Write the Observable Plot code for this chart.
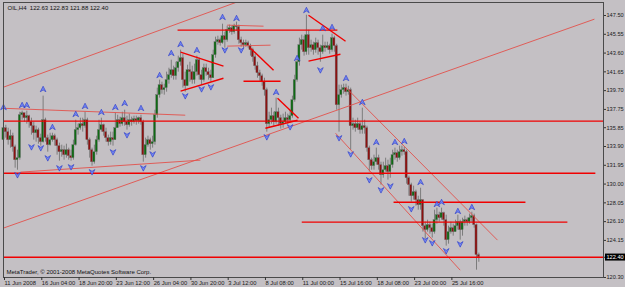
<!DOCTYPE html>
<html><head><meta charset="utf-8">
<script src="https://cdn.jsdelivr.net/npm/d3@7"></script>
<script src="https://cdn.jsdelivr.net/npm/@observablehq/plot@0.6"></script>
<style>
html,body{margin:0;padding:0;background:#c4c0c4;overflow:hidden;}
</style></head><body><div id="chart"></div>
<script>
// ---- data ----
const symbolName = "OIL", period = "H4";
const firstOpen = 134.56;
const closes = [
135.80,135.39,134.56,134.97,133.83,132.48,132.69,137.15,137.36,136.84,
137.05,136.43,136.01,135.28,135.60,134.77,134.35,136.63,134.77,134.04,
134.56,134.97,134.56,133.94,133.31,133.52,133.00,133.52,132.90,132.69,
134.04,135.60,135.80,136.22,136.01,136.63,134.56,133.52,132.27,133.31,
134.56,135.60,136.11,135.39,134.77,134.35,134.77,134.56,135.80,136.63,
136.22,136.84,136.43,136.11,136.63,136.43,136.74,136.53,136.84,136.43,
133.00,134.04,134.56,134.14,134.35,137.15,139.23,140.27,139.75,139.96,
140.79,141.30,141.82,141.20,142.03,142.65,143.07,140.79,140.16,141.82,
141.62,140.79,141.62,142.86,141.30,140.79,142.03,141.62,141.30,140.99,
143.38,144.73,144.94,144.63,145.35,144.94,145.98,146.18,145.77,146.39,
146.29,144.94,144.63,144.42,144.63,144.32,143.90,143.17,142.24,141.51,
141.20,140.58,139.75,136.22,136.63,137.05,136.43,137.46,136.84,136.22,
136.43,136.84,136.63,137.05,138.71,140.79,142.65,144.42,144.94,143.69,
145.46,144.11,144.42,143.90,144.63,144.11,143.69,144.32,144.11,144.32,
143.90,145.15,144.32,138.19,139.23,139.75,139.96,139.54,139.75,136.01,
136.22,135.80,136.22,135.60,136.01,135.80,133.73,132.48,131.86,132.27,
132.69,131.96,130.93,131.44,131.86,131.24,131.96,133.00,133.21,132.69,
133.31,133.52,133.31,130.61,129.89,128.74,129.16,128.33,127.81,128.33,
125.63,125.22,125.74,125.42,125.01,126.25,126.77,126.46,126.98,126.25,
124.18,125.01,125.42,125.01,125.63,126.05,125.22,126.05,126.25,126.05,
126.46,126.67,125.74,122.63,122.40];
const highs = [
137.36,136.11,135.80,135.60,135.28,134.04,133.52,137.46,137.57,137.26,
137.57,137.15,136.84,136.43,136.01,135.80,135.18,139.13,136.84,135.08,
135.28,135.28,135.18,134.77,134.25,134.04,133.94,134.14,133.73,133.52,
134.56,136.63,136.22,136.84,136.84,137.46,136.84,134.77,133.73,134.04,
134.97,136.63,136.84,136.22,135.80,135.08,135.39,135.39,137.36,137.15,
136.95,137.46,137.67,137.05,137.26,136.95,137.05,137.05,136.95,137.15,
136.63,134.77,134.97,134.77,134.97,137.67,139.96,140.79,140.58,140.37,
141.62,142.03,142.86,142.24,142.65,143.28,143.90,143.48,141.62,142.34,
142.65,142.24,142.45,143.28,143.07,141.82,142.45,142.45,142.03,141.82,
143.90,145.25,145.35,145.15,146.60,145.77,146.39,146.50,146.39,146.60,
146.81,146.50,145.25,144.94,144.94,144.83,144.52,144.11,143.48,142.65,
141.82,141.41,140.99,139.96,137.46,137.88,137.46,138.92,137.88,137.15,
137.26,137.46,137.26,137.67,139.13,141.30,143.07,145.15,145.46,145.35,
147.53,145.98,144.94,144.73,145.15,144.94,144.42,145.46,144.73,144.73,
144.52,145.56,145.35,144.52,140.27,140.27,140.37,140.37,140.16,139.96,
136.84,136.63,136.84,136.43,137.88,136.63,136.01,133.94,132.69,133.00,
133.73,133.00,132.27,132.27,132.69,132.48,132.69,133.52,133.73,133.52,
133.94,133.94,133.83,133.52,130.82,130.09,129.78,129.37,128.74,129.57,
128.33,126.05,126.25,126.05,125.84,127.29,127.50,127.08,127.50,127.08,
126.77,125.63,126.05,125.84,126.25,126.77,126.25,126.46,126.67,126.46,
126.88,127.08,126.88,125.84,122.83];
const lows = [
134.04,134.77,134.04,133.73,133.31,131.65,131.44,132.48,136.63,136.43,
136.22,135.80,135.08,134.56,134.35,134.14,133.94,134.25,134.35,133.31,
133.94,134.35,133.94,133.00,132.38,132.79,132.48,132.69,132.48,132.38,
132.48,133.94,135.08,135.60,135.39,135.80,134.04,132.69,131.86,132.07,
133.00,134.35,135.39,134.97,134.35,133.94,134.04,133.94,134.56,135.80,
135.91,136.01,136.01,135.60,135.91,136.01,136.22,136.11,136.22,136.11,
132.27,132.69,133.83,133.52,133.73,134.04,136.84,138.92,139.33,139.23,
139.54,140.37,140.99,140.79,140.79,141.62,142.24,139.96,139.54,140.16,
140.58,140.37,140.37,141.20,140.79,140.27,140.58,141.20,140.79,140.58,
140.99,143.07,144.42,144.32,144.52,144.11,144.73,145.66,145.46,145.56,
145.87,144.52,144.21,144.11,144.21,144.11,143.28,142.65,141.82,140.99,
140.68,140.16,139.13,135.39,135.80,136.22,136.01,136.22,136.01,135.70,
135.80,136.22,136.22,136.43,136.84,138.50,140.58,142.24,143.90,143.28,
143.38,143.38,143.69,143.38,143.59,143.38,142.65,143.48,143.69,143.90,
143.48,143.69,143.69,137.67,135.39,138.92,139.33,139.13,139.23,133.52,
135.60,135.39,135.60,135.18,135.18,135.18,133.31,131.24,131.44,131.44,
131.96,131.44,129.89,130.61,131.24,130.41,130.61,131.65,132.48,132.27,
132.48,132.90,133.00,129.99,128.74,128.12,128.33,127.71,127.29,127.29,
125.01,124.29,125.01,124.80,124.39,124.80,125.84,126.05,126.25,125.63,
123.56,123.76,124.80,124.59,125.01,125.22,124.18,124.59,125.63,125.63,
125.84,126.05,125.42,121.06,121.88];

const xTickBars = [0,16,32,48,64,80,96,112,128,144,160,176,192];
const xTickLabels = ["11 Jun 2008","16 Jun 04:00","18 Jun 20:00","23 Jun 12:00","26 Jun 04:00","30 Jun 20:00","3 Jul 12:00","8 Jul 08:00","11 Jul 00:00","15 Jul 16:00","18 Jul 08:00","23 Jul 00:00","25 Jul 16:00"];
const yTicks = [147.50,145.55,143.60,141.65,139.70,137.75,135.85,133.90,131.95,130.00,128.05,126.10,124.15,122.40,120.30];

// fractal arrows: bar index and level
const upFractalBars = [0,8,10,17,21,31,35,42,48,52,59,67,72,76,83,94,100,117,126,130,137,141,147,154,160,168,172,179,186,188,195,201];
const upFractalLevels = [137.98,138.19,138.19,139.85,135.91,137.26,138.09,137.46,137.98,138.40,137.88,141.30,143.59,144.52,143.90,147.33,147.22,139.54,143.07,148.05,146.18,146.29,140.99,138.50,134.35,134.35,134.45,130.20,127.91,128.12,127.19,127.60];
const downFractalBars = [6,12,16,19,24,29,38,47,53,60,64,78,85,89,95,102,113,123,136,144,149,157,162,166,175,181,184,190,196];
const downFractalLevels = [130.93,133.83,133.73,132.69,131.65,131.76,131.24,133.31,135.08,131.65,133.10,139.13,139.85,140.06,143.90,143.90,134.87,135.91,141.82,134.77,133.10,130.41,129.37,129.78,127.40,124.18,123.87,123.04,123.76];

// drawn objects (bar index, price) pairs
const fullHorizontalLevels = [136.53, 122.40];
const thickSegments = [
  [-2,131.13,254,131.13],
  [167.4,128.12,224,128.12],
  [128,126.05,242,126.05],
  [74.7,145.98,143.3,145.98],
  [103,140.68,118.9,140.68],
  [76,143.69,94.4,142.24],
  [76,139.65,94.4,140.99],
  [106,144.11,115.9,141.82],
  [117.6,138.92,126.6,136.84],
  [112.4,135.80,126.2,136.63],
  [130.9,147.53,146.8,144.83],
  [130.9,142.76,144.6,143.48]
];
const thinSegments = [
  [0,140.06,100,148.88],
  [-1.3,125.32,253.6,147.12],
  [-1.3,137.88,78,137.15],
  [7.3,131.24,84.5,132.48],
  [146.8,140.06,212,124.18],
  [142.5,135.28,196,121.06],
  [96,146.50,111.6,146.39],
  [96,144.32,114.6,144.42]
];

// ---- build ----
const bars = closes.map((c, i) => ({i, open: i === 0 ? firstOpen : closes[i-1], close: c, high: highs[i], low: lows[i]}));
const last = bars[bars.length - 1];
const seg = a => a.map(([x1,y1,x2,y2]) => ({x1,y1,x2,y2}));
const ups = upFractalBars.map((b,k) => ({b, v: upFractalLevels[k]}));
const downs = downFractalBars.map((b,k) => ({b, v: downFractalLevels[k]}));

const upArrow = {draw(ctx, size){ const s = Math.sqrt(size/Math.PI);
  ctx.moveTo(0,-1.1*s); ctx.lineTo(1.05*s,0.95*s); ctx.lineTo(0,0.3*s); ctx.lineTo(-1.05*s,0.95*s); ctx.closePath(); }};
const downArrow = {draw(ctx, size){ const s = Math.sqrt(size/Math.PI);
  ctx.moveTo(0,1.1*s); ctx.lineTo(1.05*s,-0.95*s); ctx.lineTo(0,-0.3*s); ctx.lineTo(-1.05*s,-0.95*s); ctx.closePath(); }};

const fmt = v => v.toFixed(2);
const chart = Plot.plot({
  width: 625, height: 287,
  marginTop: 2, marginLeft: 3, marginRight: 22, marginBottom: 10,
  style: {background: "#c4c0c4", fontFamily: "Liberation Sans, Arial, sans-serif", fontSize: "5.6px", color: "#1a1a1a"},
  x: {domain: [0, 257.5], axis: null},
  y: {domain: [120.30, 148.85], axis: null},
  marks: [
    Plot.ruleX(bars, {x: "i", y1: "low", y2: "high", stroke: "#7c7c7c", strokeWidth: 1}),
    Plot.rect(bars, {x1: d => d.i - 0.46, x2: d => d.i + 0.46, y1: "open", y2: "close",
      fill: d => d.close >= d.open ? "#0f6a14" : "#8c1010", stroke: "#6e6e6e", strokeWidth: 0.4}),
    Plot.link(seg(thinSegments), {x1: "x1", y1: "y1", x2: "x2", y2: "y2", stroke: "#e2514c", strokeWidth: 0.9, clip: true}),
    Plot.ruleY(fullHorizontalLevels, {stroke: "#f00000", strokeWidth: 1.4}),
    Plot.link(seg(thickSegments), {x1: "x1", y1: "y1", x2: "x2", y2: "y2", stroke: "#f00000", strokeWidth: 1.4, clip: true}),
    Plot.dot(ups, {x: "b", y: "v", r: 2.7, symbol: upArrow, fill: "#7486f2", stroke: "#2536c8", strokeWidth: 0.6}),
    Plot.dot(downs, {x: "b", y: "v", r: 2.7, symbol: downArrow, fill: "#7486f2", stroke: "#2536c8", strokeWidth: 0.6}),
    Plot.frame({stroke: "#4a4a4a", strokeWidth: 1}),
    Plot.axisY({anchor: "right", ticks: yTicks, tickFormat: fmt, tickSize: 2, tickPadding: 1, stroke: "#333", fill: "#1a1a1a", fontSize: 5.6}),
    Plot.axisX({anchor: "bottom", ticks: xTickBars, tickFormat: d => xTickLabels[xTickBars.indexOf(d)], tickSize: 3, tickPadding: 0, textAnchor: "start", dx: 1, stroke: "#333", fill: "#1a1a1a", fontSize: 5.8}),
    Plot.text([last], {frameAnchor: "top-left", dx: 4, dy: 3, fontSize: 6, fill: "#111",
      text: d => `${symbolName},${period}  ${fmt(d.open)} ${fmt(d.high)} ${fmt(d.low)} ${fmt(d.close)}`}),
    Plot.text(["MetaTrader, © 2001-2008 MetaQuotes Software Corp."], {frameAnchor: "bottom-left", dx: 3, dy: -4, fontSize: 6, fill: "#111", text: d => d})
  ]
});
document.getElementById("chart").appendChild(chart);
// highlight current price label
d3.select(chart).selectAll("text").filter(function(){ return this.textContent === fmt(last.close); }).each(function(){
  const bb = this.getBBox();
  const r = document.createElementNS("http://www.w3.org/2000/svg", "rect");
  r.setAttribute("x", bb.x - 1.5); r.setAttribute("y", bb.y - 0.5);
  r.setAttribute("width", bb.width + 3); r.setAttribute("height", bb.height + 1);
  r.setAttribute("fill", "#000");
  if (this.getAttribute("transform")) r.setAttribute("transform", this.getAttribute("transform"));
  this.parentNode.insertBefore(r, this);
  this.setAttribute("fill", "#fff");
});
</script></body></html>
